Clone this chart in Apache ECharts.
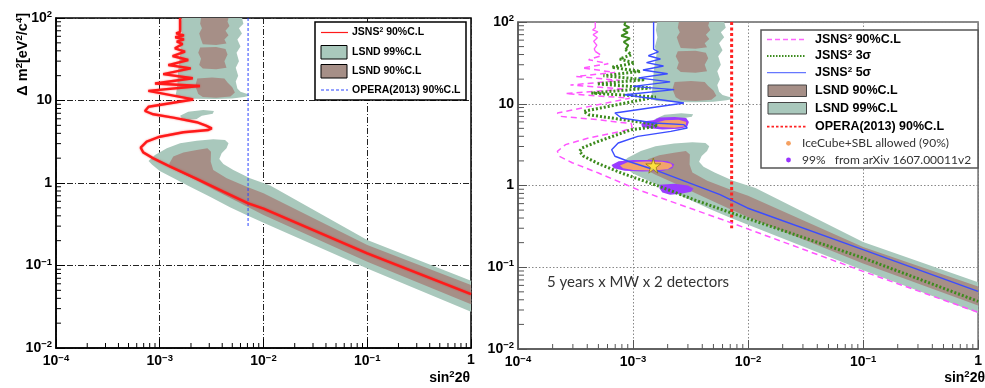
<!DOCTYPE html>
<html><head><meta charset="utf-8">
<script src="https://cdn.jsdelivr.net/npm/echarts@6/dist/echarts.min.js"></script>
<style>html,body{margin:0;padding:0;background:#fff}#c{width:985px;height:388px}</style>
</head><body><div id="c"></div><script>
// ---------------- data (sin^2 2theta , delta m^2 [eV^2]) ----------------
const X_MIN = 1e-4, X_MAX = 1, Y_MIN = 1e-2, Y_MAX = 100;
const xDecades = [1e-4, 1e-3, 1e-2, 1e-1];
const yDecades = [1e-2, 1e-1, 1, 10];
const minorMultipliers = [2, 3, 4, 5, 6, 7, 8, 9];

// LSND 99% C.L. allowed region (three pieces)
const lsnd99Top = [[1.62e-3,100],[1.58e-3,80],[1.63e-3,65],[1.55e-3,50],[1.6e-3,40],[1.54e-3,30],[1.5e-3,22],[1.48e-3,16],[1.45e-3,13],[1.42e-3,11.5],[1.6e-3,10.8],[2.2e-3,10.5],[3.5e-3,10.4],[5e-3,10.6],[6.5e-3,11],[7.3e-3,11.4],[7.0e-3,12.0],[6.0e-3,12.8],[5.6e-3,14],[5.4e-3,17],[5.7e-3,20],[5.4e-3,25],[5.8e-3,30],[5.5e-3,38],[6.0e-3,45],[5.6e-3,55],[6.2e-3,65],[5.8e-3,75],[6.4e-3,85],[6.2e-3,100]];
const lsnd99Island = [[1.57e-3,6.54],[1.88e-3,7.31],[2.63e-3,7.67],[3.33e-3,7.46],[3.24e-3,6.92],[2.54e-3,6.54],[2.27e-3,5.97],[1.88e-3,5.80],[1.63e-3,6.08]];
const lsnd99Low = [[7.8e-4,1.85],[9.0e-4,2.18],[1.17e-3,2.64],[1.57e-3,3.03],[2.27e-3,3.26],[3.28e-3,3.39],[4.26e-3,3.32],[4.6e-3,3.03],[4.4e-3,2.64],[3.95e-3,2.29],[3.75e-3,1.95],[4.1e-3,1.70],[5.12e-3,1.44],[7.41e-3,1.14],[1.16e-2,0.93],[0.1,0.204],[1,0.0655],[1,0.0275],[0.1,0.092],[1e-2,0.33],[7.1e-3,0.40],[4.75e-3,0.51],[3.05e-3,0.68],[1.96e-3,0.90],[1.35e-3,1.15],[1.0e-3,1.40],[8.4e-4,1.68]];
// LSND 90% C.L. allowed region (four pieces)
const lsnd90Top1 = [[2.5e-3,100],[2.45e-3,85],[2.55e-3,75],[2.4e-3,65],[2.5e-3,55],[2.6e-3,48],[3.5e-3,47],[4.4e-3,49],[4.2e-3,55],[4.6e-3,62],[4.3e-3,70],[4.7e-3,80],[4.5e-3,90],[4.6e-3,100]];
const lsnd90Top2 = [[2.45e-3,44],[2.35e-3,38],[2.5e-3,32],[2.4e-3,27],[2.6e-3,24.5],[3.5e-3,24],[4.4e-3,25],[4.2e-3,30],[4.5e-3,36],[4.3e-3,42],[3.5e-3,44.5]];
const lsnd90Top3 = [[2.3e-3,18.5],[2.2e-3,15],[2.35e-3,12],[2.6e-3,11],[3.5e-3,10.8],[4.8e-3,11.2],[5.3e-3,12.5],[5.0e-3,14.5],[4.5e-3,16.5],[4.2e-3,18.5],[3.2e-3,19]];
const lsnd90Low = [[1.24e-3,1.73],[1.35e-3,2.09],[1.69e-3,2.35],[2.27e-3,2.51],[2.88e-3,2.64],[3.12e-3,2.39],[3.10e-3,1.81],[3.28e-3,1.44],[4.42e-3,1.14],[6.89e-3,0.90],[1e-2,0.75],[0.1,0.177],[1,0.058],[1,0.034],[0.1,0.111],[1e-2,0.41],[5.52e-3,0.60],[3.54e-3,0.80],[2.27e-3,1.07],[1.57e-3,1.35],[1.24e-3,1.60]];

// Left panel: JSNS^2 90% C.L. sensitivity and OPERA(2013)
const jsnsLeft90 = [[1.57e-3,100],[1.57e-3,68],[1.44e-3,65],[1.71e-3,61.7],[1.41e-3,58.4],[1.71e-3,55.1],[1.46e-3,51.6],[1.66e-3,48.4],[1.40e-3,42.9],[1.75e-3,39.1],[1.33e-3,34.6],[1.88e-3,31.0],[1.21e-3,26.9],[1.99e-3,24.5],[1.08e-3,20.9],[2.08e-3,18.6],[9.0e-4,16.1],[2.44e-3,15.0],[7.76e-4,13.1],[2.1e-3,10.3],[7.8e-4,8.4],[7.2e-4,7.46],[8.67e-4,6.81],[1.35e-3,6.19],[2.27e-3,5.45],[2.79e-3,4.95],[3.17e-3,4.60],[2.94e-3,4.39],[1.69e-3,4.12],[1.0e-3,3.64],[7.48e-4,3.17],[6.55e-4,2.68],[6.93e-4,2.35],[8.67e-4,1.99],[1.26e-3,1.58],[2.27e-3,1.12],[4.1e-3,0.785],[7.13e-3,0.567],[1e-2,0.49],[0.1,0.140],[1,0.045]];
const operaLeft = [[7.1e-3,100],[7.1e-3,0.3]];

// Right panel: JSNS^2 90% C.L., 3 sigma, 5 sigma, OPERA(2013)
const jsns90Top = [[4.69e-4,100],[4.7e-4,85],[4.45e-4,80],[4.95e-4,76],[4.5e-4,70],[4.9e-4,64],[4.55e-4,58],[4.85e-4,52],[4.6e-4,47],[4.69e-4,43.8]];
const jsns90 = [[4.69e-4,43.8],[5.34e-4,38.7],[4.11e-4,34.6],[6.09e-4,30.9],[3.61e-4,27.4],[6.96e-4,24.2],[3.21e-4,21.6],[7.67e-4,19.3],[2.86e-4,16.9],[8.48e-4,15.1],[2.59e-4,13.3],[9.35e-4,11.7],[2.2e-4,7.71],[2.35e-4,7.01],[5.01e-4,6.38],[9.67e-4,5.70],[9.8e-4,5.05],[7.94e-4,4.60],[4.11e-4,3.81],[2.59e-4,3.16],[2.2e-4,2.62],[2.28e-4,2.28],[2.96e-4,1.90],[5.01e-4,1.42],[1.1e-3,0.889],[7.2e-3,0.348],[0.1,0.0891],[1,0.0281]];
const jsns3sTop = [[8.6e-4,100],[8.4e-4,92],[9.3e-4,86],[8.2e-4,80],[9.0e-4,74],[7.9e-4,68],[9.4e-4,63],[8.3e-4,57],[9.1e-4,52],[8.6e-4,45.9]];
const jsns3s = [[8.6e-4,45.9],[9.67e-4,39.8],[7.67e-4,35.3],[1.03e-3,31.5],[6.52e-4,27.9],[1.16e-3,24.9],[5.53e-4,22.0],[1.27e-3,19.7],[4.85e-4,17.5],[1.42e-3,15.6],[4.34e-4,13.5],[1.58e-3,12.1],[3.72e-4,8.07],[4.11e-4,7.34],[1.64e-3,5.55],[1.53e-3,5.20],[9.67e-4,4.82],[5.01e-4,3.47],[3.61e-4,2.88],[3.42e-4,2.62],[3.72e-4,2.28],[5.01e-4,1.85],[7.94e-4,1.42],[1.75e-3,0.96],[3.37e-3,0.671],[7.92e-3,0.440],[0.1,0.130],[1,0.0383]];
const jsns5s = [[1.51e-3,100],[1.51e-3,46.4],[1.66e-3,43.0],[1.36e-3,38.7],[1.73e-3,35.3],[1.31e-3,31.8],[1.84e-3,29.0],[1.22e-3,25.9],[2.0e-3,23.3],[1.12e-3,20.7],[2.10e-3,18.5],[1.0e-3,16.3],[2.28e-3,14.9],[8.48e-4,12.9],[2.77e-3,10.2],[6.96e-4,7.71],[7.94e-4,6.70],[1.53e-3,5.82],[2.77e-3,5.55],[2.96e-3,5.05],[2.13e-3,4.60],[1.10e-3,3.99],[7.43e-4,3.31],[6.52e-4,2.74],[6.96e-4,2.28],[9.06e-4,1.98],[1.53e-3,1.56],[2.96e-3,1.10],[5.71e-3,0.773],[9.86e-3,0.531],[0.0998,0.164],[1,0.0507]];
const operaRight = [[7.2e-3,100],[7.2e-3,0.3]];

// IceCube+SBL allowed (90%) and 99% regions (arXiv 1607.00011v2)
const purple99a = [[1.18e-3,5.6],[1.25e-3,6.1],[1.5e-3,6.3],[1.7e-3,6.8],[2.3e-3,6.9],[2.9e-3,6.7],[3.06e-3,6.0],[2.95e-3,5.2],[2.5e-3,4.95],[1.8e-3,4.85],[1.4e-3,5.0],[1.2e-3,5.2]];
const orange90a = [[1.6e-3,5.9],[1.9e-3,6.3],[2.5e-3,6.35],[2.9e-3,6.0],[2.85e-3,5.3],[2.3e-3,5.1],[1.7e-3,5.2],[1.55e-3,5.5]];
const purple99b = [[6.5e-4,1.78],[7.5e-4,1.98],[1.0e-3,2.05],[1.5e-3,2.05],[2.0e-3,1.98],[2.28e-3,1.82],[2.2e-3,1.62],[1.8e-3,1.5],[1.2e-3,1.48],[8.5e-4,1.52],[6.8e-4,1.62]];
const orange90b = [[7.7e-4,1.76],[9e-4,1.92],[1.3e-3,1.97],[1.8e-3,1.95],[2.15e-3,1.85],[2.2e-3,1.72],[2.0e-3,1.58],[1.5e-3,1.53],[1.0e-3,1.55],[8.2e-4,1.63]];
const purple99c = [[1.7e-3,1.02],[2.3e-3,1.05],[3.0e-3,1.0],[3.35e-3,0.92],[3.2e-3,0.84],[2.6e-3,0.79],[2.1e-3,0.77],[1.8e-3,0.82],[1.7e-3,0.92]];
const bestFit = [[1.5e-3,1.75]];

const legendLeftLabels = ['JSNS{s|2} 90%C.L', 'LSND 99%C.L', 'LSND 90%C.L', 'OPERA(2013) 90%C.L'];
const legendRightLabels = ['JSNS{s|2} 90%C.L', 'JSNS{s|2} 3σ', 'JSNS{s|2} 5σ', 'LSND 90%C.L', 'LSND 99%C.L', 'OPERA(2013) 90%C.L'];
const legendRightNotes = ['IceCube+SBL allowed (90%)', '99%   from arXiv 1607.00011v2'];
const exposureNote = '5 years x MW x 2 detectors';

// ---------------- styles ----------------
const C_GREEN = '#a9c8bc', C_BROWN = '#a68f87';
const C_PURPLE = '#9a3cff', C_ORANGE = '#f3a36b';
const FONT = 'Liberation Sans';
const supRich = {s: {fontSize: 9.5, fontWeight: 'bold', fontFamily: FONT, color: '#000', padding: [0, 0, 7, 0]}};

const xMinor = [], yMinor = [];
xDecades.forEach(d => minorMultipliers.forEach(m => xMinor.push(d * m)));
yDecades.forEach(d => minorMultipliers.forEach(m => yMinor.push(d * m)));

function powLabel(v) {
  const e = Math.round(Math.log10(v));
  if (e === 0) return '1';
  if (e === 1) return '10';
  return '10{s|' + (e < 0 ? '\u2212' + (-e) : e) + '}';
}

function polySeries(pts, color, gi, z) {
  return {type: 'custom', coordinateSystem: 'cartesian2d', xAxisIndex: gi, yAxisIndex: gi,
    clip: true, silent: true, z: z, data: pts, encode: {x: 0, y: 1},
    renderItem: (params, api) => {
      if (params.dataIndex !== 0) return null;
      return {type: 'polygon', shape: {points: pts.map(p => api.coord(p))}, style: {fill: color}};
    }};
}
function lineSeries(pts, gi, ls, z) {
  return {type: 'line', xAxisIndex: gi, yAxisIndex: gi, data: pts, showSymbol: false, symbol: 'none',
    clip: true, silent: true, z: z || 5, lineStyle: ls, animation: false};
}
function tickSeries(vals, dir, gi, len, color) {
  return {type: 'custom', coordinateSystem: 'cartesian2d', xAxisIndex: gi, yAxisIndex: gi, silent: true, z: 8,
    data: dir === 'x' ? vals.map(v => [v, Y_MIN]) : vals.map(v => [X_MIN, v]),
    encode: {x: 0, y: 1},
    renderItem: (params, api) => {
      const p = api.coord([api.value(0), api.value(1)]);
      const shape = dir === 'x' ? {x1: p[0], y1: p[1], x2: p[0], y2: p[1] - len} : {x1: p[0], y1: p[1], x2: p[0] + len, y2: p[1]};
      return {type: 'line', shape: shape, style: {stroke: color, lineWidth: 1}};
    }};
}
function makeAxis(gi, dim, axisColor, gridStyle) {
  return {gridIndex: gi, type: 'log', logBase: 10,
    min: dim === 'x' ? X_MIN : Y_MIN, max: dim === 'x' ? X_MAX : Y_MAX,
    axisLine: {show: true, lineStyle: {color: axisColor, width: 1.5}},
    axisTick: {show: true, inside: true, length: 9, lineStyle: {color: axisColor, width: 1}},
    minorTick: {show: false},
    axisLabel: {show: true, showMinLabel: true, showMaxLabel: true, hideOverlap: false, margin: dim === 'x' ? 5 : 4,
      color: '#000', fontFamily: FONT, fontWeight: 'bold', fontSize: 14, formatter: powLabel, rich: supRich},
    splitLine: {show: true, lineStyle: gridStyle}};
}

const leftGrid = {color: '#222', type: [6, 2, 1, 2], width: 1};
const rightGrid = {color: '#888', type: [1.5, 2], width: 1};

const series = [
  // left panel
  polySeries(lsnd99Top, C_GREEN, 0, 1), polySeries(lsnd99Island, C_GREEN, 0, 1), polySeries(lsnd99Low, C_GREEN, 0, 1),
  polySeries(lsnd90Top1, C_BROWN, 0, 2), polySeries(lsnd90Top2, C_BROWN, 0, 2), polySeries(lsnd90Top3, C_BROWN, 0, 2), polySeries(lsnd90Low, C_BROWN, 0, 2),
  lineSeries(operaLeft, 0, {color: '#2b44ff', width: 1, type: [3, 2]}, 5),
  lineSeries(jsnsLeft90, 0, {color: '#ff1a1a', width: 2.4, shadowBlur: 2, shadowColor: 'rgba(255,0,0,0.5)'}, 6),
  tickSeries(xMinor, 'x', 0, 5, '#000'), tickSeries(yMinor, 'y', 0, 5, '#000'),
  // right panel
  polySeries(lsnd99Top, C_GREEN, 1, 1), polySeries(lsnd99Island, C_GREEN, 1, 1), polySeries(lsnd99Low, C_GREEN, 1, 1),
  polySeries(lsnd90Top1, C_BROWN, 1, 2), polySeries(lsnd90Top2, C_BROWN, 1, 2), polySeries(lsnd90Top3, C_BROWN, 1, 2), polySeries(lsnd90Low, C_BROWN, 1, 2),
  polySeries(purple99a, C_PURPLE, 1, 3), polySeries(orange90a, C_ORANGE, 1, 3),
  polySeries(purple99b, C_PURPLE, 1, 3), polySeries(orange90b, C_ORANGE, 1, 3),
  polySeries(purple99c, C_PURPLE, 1, 3),
  lineSeries(operaRight, 1, {color: '#ff2222', width: 3, type: [3, 2.5]}, 5),
  lineSeries(jsns90Top, 1, {color: '#ff55ff', width: 1.3}, 5),
  lineSeries(jsns90, 1, {color: '#ff55ff', width: 1.5, type: [6, 4]}, 5),
  lineSeries(jsns3sTop, 1, {color: '#3d8b1e', width: 2}, 5),
  lineSeries(jsns3s, 1, {color: '#3d8b1e', width: 3, type: [2, 2]}, 5),
  lineSeries(jsns5s, 1, {color: '#3b4cff', width: 1.4}, 6),
  {type: 'scatter', xAxisIndex: 1, yAxisIndex: 1, data: bestFit, z: 7, silent: true,
    symbol: 'path://M50,0 L61,35 L98,35 L68,57 L79,91 L50,70 L21,91 L32,57 L2,35 L39,35 Z', symbolSize: 15,
    itemStyle: {color: '#ffee33', borderColor: '#7a6a00', borderWidth: 0.8}},
  tickSeries(xMinor, 'x', 1, 5, '#555'), tickSeries(yMinor, 'y', 1, 6, '#555')
];

// ---------------- legends & texts ----------------
const txt = (x, y, text, size, opts) => Object.assign({type: 'text', x: x, y: y, z: 20,
  style: {text: text, fontFamily: FONT, fontWeight: 'bold', fontSize: size, fill: '#000',
    verticalAlign: 'middle', align: 'left', rich: {s: {fontSize: size * 0.65, fontWeight: 'bold', fontFamily: FONT, padding: [0, 0, size * 0.45, 0]}}}}, opts || {});
const graphic = [
  // left legend
  {type: 'rect', z: 15, shape: {x: 315, y: 22, width: 151, height: 78}, style: {fill: '#fff', stroke: '#000', lineWidth: 1.5}},
  {type: 'line', z: 20, shape: {x1: 321, y1: 32.5, x2: 348, y2: 32.5}, style: {stroke: '#ff1a1a', lineWidth: 1.2}},
  txt(352, 32.5, legendLeftLabels[0], 10.5),
  {type: 'rect', z: 20, shape: {x: 321, y: 45.5, width: 26, height: 13.5}, style: {fill: C_GREEN, stroke: '#000', lineWidth: 1}},
  txt(352, 52.5, legendLeftLabels[1], 10.5),
  {type: 'rect', z: 20, shape: {x: 321, y: 64.5, width: 26, height: 13.5}, style: {fill: C_BROWN, stroke: '#000', lineWidth: 1}},
  txt(352, 71.5, legendLeftLabels[2], 10.5),
  {type: 'line', z: 20, shape: {x1: 321, y1: 90, x2: 348, y2: 90}, style: {stroke: '#2b44ff', lineWidth: 1, lineDash: [3, 2]}},
  txt(352, 90, legendLeftLabels[3], 10.5),
  // right legend
  {type: 'rect', z: 15, shape: {x: 761, y: 30, width: 217, height: 138}, style: {fill: '#fff', stroke: '#555', lineWidth: 1.5}},
  {type: 'line', z: 20, shape: {x1: 767, y1: 39.5, x2: 806, y2: 39.5}, style: {stroke: '#ff66ff', lineWidth: 1.5, lineDash: [5, 3]}},
  txt(815, 39.5, legendRightLabels[0], 12.5),
  {type: 'line', z: 20, shape: {x1: 767, y1: 56, x2: 806, y2: 56}, style: {stroke: '#3d8b1e', lineWidth: 1.8, lineDash: [1.5, 1.5]}},
  txt(815, 56, legendRightLabels[1], 12.5),
  {type: 'line', z: 20, shape: {x1: 767, y1: 72.7, x2: 806, y2: 72.7}, style: {stroke: '#6677ff', lineWidth: 1.2}},
  txt(815, 72.7, legendRightLabels[2], 12.5),
  {type: 'rect', z: 20, shape: {x: 768, y: 85, width: 38.5, height: 11.5}, style: {fill: C_BROWN, stroke: '#444', lineWidth: 1}},
  txt(815, 91, legendRightLabels[3], 12.5),
  {type: 'rect', z: 20, shape: {x: 768, y: 102.5, width: 38.5, height: 11.5}, style: {fill: C_GREEN, stroke: '#444', lineWidth: 1}},
  txt(815, 108.5, legendRightLabels[4], 12.5),
  {type: 'line', z: 20, shape: {x1: 767, y1: 126.7, x2: 806, y2: 126.7}, style: {stroke: '#ff2222', lineWidth: 1.8, lineDash: [2.5, 2]}},
  txt(815, 126.7, legendRightLabels[5], 12.5),
  {type: 'circle', z: 20, shape: {cx: 788.5, cy: 143.3, r: 2.4}, style: {fill: '#f5a060'}},
  txt(802, 143.3, legendRightNotes[0], 12, {style: {text: legendRightNotes[0], fontFamily: 'Lato', fontSize: 12, fill: '#333', verticalAlign: 'middle'}}),
  {type: 'circle', z: 20, shape: {cx: 788.5, cy: 160, r: 2.4}, style: {fill: '#9933ff'}},
  txt(802, 160, legendRightNotes[1], 12, {style: {text: legendRightNotes[1], fontFamily: 'Lato', fontSize: 12, fill: '#333', verticalAlign: 'middle'}}),
  // annotations and axis titles
  txt(547, 282, exposureNote, 15, {style: {text: exposureNote, fontFamily: 'Lato', fontSize: 15, fill: '#333', verticalAlign: 'middle'}}),
  txt(470, 378, 'sin{s|2}2θ', 14, {style: {text: 'sin{s|2}2θ', fontFamily: FONT, fontWeight: 'bold', fontSize: 14, fill: '#000', align: 'right', verticalAlign: 'middle',
    rich: {s: {fontSize: 9.5, fontWeight: 'bold', fontFamily: FONT, padding: [0, 0, 7, 0]}}}}),
  txt(985, 378, 'sin{s|2}2θ', 14, {style: {text: 'sin{s|2}2θ', fontFamily: FONT, fontWeight: 'bold', fontSize: 14, fill: '#000', align: 'right', verticalAlign: 'middle',
    rich: {s: {fontSize: 9.5, fontWeight: 'bold', fontFamily: FONT, padding: [0, 0, 7, 0]}}}}),
  {type: 'text', z: 20, x: 23, y: 13, rotation: Math.PI / 2,
    style: {text: 'Δ m{s|2}[eV{s|2}/c{s|4}]', fontFamily: FONT, fontWeight: 'bold', fontSize: 14.5, fill: '#000', align: 'right', verticalAlign: 'middle',
      rich: {s: {fontSize: 9.5, fontWeight: 'bold', fontFamily: FONT, padding: [0, 0, 7, 0]}}}}
];

const chart = echarts.init(document.getElementById('c'), null, {renderer: 'canvas'});
chart.setOption({
  animation: false,
  backgroundColor: '#fff',
  grid: [
    {left: 56, top: 18, width: 415, height: 330, show: true, borderColor: '#000', borderWidth: 1.5, backgroundColor: 'transparent'},
    {left: 518, top: 22, width: 467, height: 327, show: true, borderColor: '#666', borderWidth: 1.5, backgroundColor: 'transparent'}
  ],
  xAxis: [makeAxis(0, 'x', '#000', leftGrid), makeAxis(1, 'x', '#555', rightGrid)],
  yAxis: [makeAxis(0, 'y', '#000', leftGrid), makeAxis(1, 'y', '#555', rightGrid)],
  series: series,
  graphic: graphic
});
</script></body></html>
